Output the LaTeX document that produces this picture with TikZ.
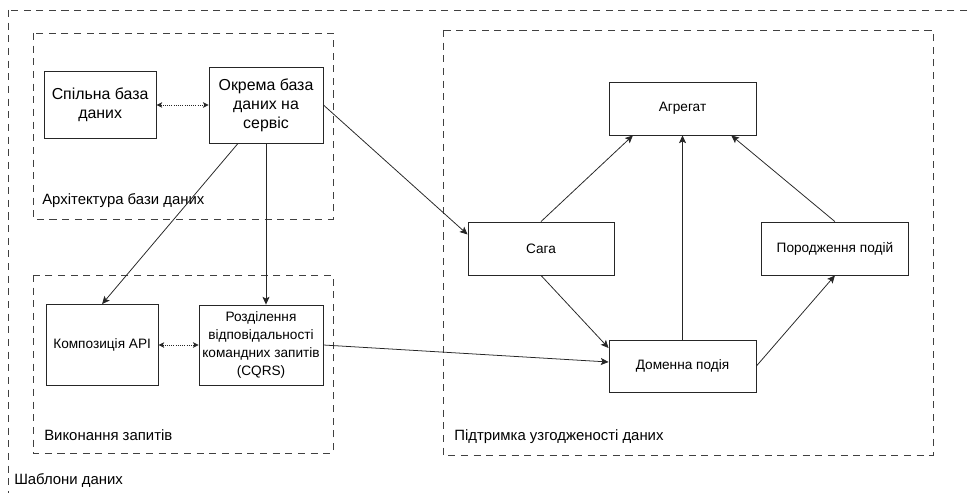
\documentclass[tikz,border=0pt]{standalone}
\usepackage{fontspec}
\setmainfont{Liberation Sans}
\usepackage{tikz}
\usetikzlibrary{positioning, arrows.meta}

\begin{document}
\begin{tikzpicture}[
    x=0.025cm, y=-0.025cm,
    node distance=1cm,
    box/.style={rectangle, draw=black!85, line width=0.6pt, align=center,
        font=\fontsize{9.7}{12.8}\selectfont, inner sep=1pt},
    bigbox/.style={box, font=\fontsize{11.3}{13.6}\selectfont},
    groupframe/.style={draw=black!75, line width=0.6pt, dash pattern=on 5pt off 4pt},
    grouplabel/.style={anchor=west, inner sep=0pt, font=\fontsize{10.6}{12}\selectfont},
    flow/.style={draw=black!85, line width=0.55pt, -{Stealth[length=5.5pt, width=5pt, inset=1.2pt]}},
    link/.style={draw=black!85, line width=0.55pt, densely dotted,
        {Stealth[length=4pt, width=4pt, inset=1pt]}-{Stealth[length=4pt, width=4pt, inset=1pt]}}
]
\useasboundingbox (0,0) rectangle (970,492);
\clip (0,0) rectangle (970,492);

% Outer frame (runs past the page)
\draw[groupframe] (8,10) rectangle (990,520);
\node[grouplabel] (tplLabel) at (14,481) {Шаблони даних};

% Group frames
\draw[groupframe] (33,33) rectangle (333,219);
\node[grouplabel] (archLabel) at (42,201) {Архітектура бази даних};
\draw[groupframe] (33,275) rectangle (333,453);
\node[grouplabel] (queryLabel) at (44,435) {Виконання запитів};
\draw[groupframe] (443,30) rectangle (933,455);
\node[grouplabel] (consLabel) at (454,437) {Підтримка узгодженості даних};

% Database architecture
\node[bigbox, minimum width=2.85cm, minimum height=1.9cm] (okrema) at (266,105) {Окрема база\\даних на\\сервіс};
\node[bigbox, minimum width=2.8cm, minimum height=1.675cm, left=1.3cm of okrema] (spilna) {Спільна база\\даних};

% Query execution
\node[box, minimum width=3.1cm, minimum height=2cm] (cqrs) at (261,345) {Розділення\\відповідальності\\командних запитів\\(CQRS)};
\node[box, minimum width=2.8cm, minimum height=2.025cm, left=1cm of cqrs] (kompoz) {Композиція API};

% Data consistency
\node[box, minimum width=3.675cm, minimum height=1.325cm] (agregat) at (682.5,108.5) {Агрегат};
\node[box, minimum width=3.65cm, minimum height=1.325cm] (saga) at (541,248.5) {Сага};
\node[box, minimum width=3.65cm, minimum height=1.325cm, right=3.675cm of saga] (porodzh) {Породження подій};
\node[box, minimum width=3.675cm, minimum height=1.3cm] (domenna) at (682.5,366) {Доменна подія};

% Edges
\draw[link] (spilna) -- (okrema);
\draw[link] (kompoz) -- (cqrs);
\draw[flow] ([xshift=-0.7cm]okrema.south) -- (kompoz.north);
\draw[flow] (okrema.south) -- (okrema.south |- cqrs.north);
\draw[flow] (okrema.east) -- ([yshift=0.35cm]saga.west);
\draw[flow] (saga.north) -- ([xshift=-1.24cm]agregat.south);
\draw[flow] (domenna.north) -- (domenna.north |- agregat.south);
\draw[flow] (porodzh.north) -- ([xshift=1.22cm]agregat.south);
\draw[flow] (saga.south) -- ([yshift=0.45cm]domenna.west);
\draw[flow] (cqrs.east) -- ([yshift=0.1cm]domenna.west);
\draw[flow] (domenna.east) -- (porodzh.south);

\end{tikzpicture}
\end{document}
